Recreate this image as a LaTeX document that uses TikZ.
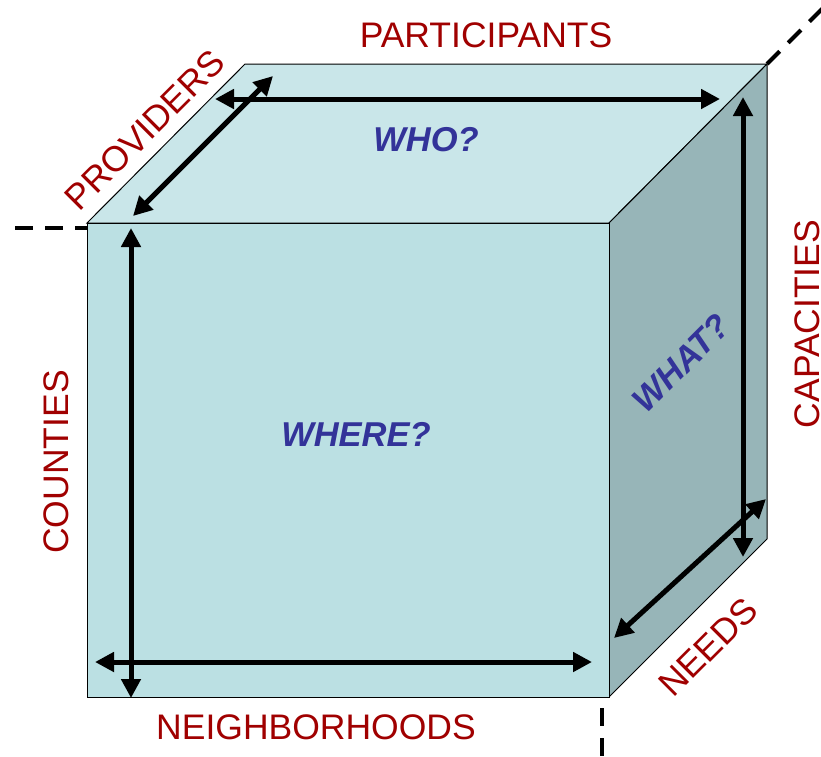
\documentclass[tikz,border=0pt]{standalone}
\usepackage{fontspec}
\setmainfont{Liberation Sans}
\usetikzlibrary{arrows.meta}
\definecolor{frontc}{HTML}{BBE0E3}
\definecolor{topc}{HTML}{C9E6E9}
\definecolor{sidec}{HTML}{97B5B8}
\definecolor{redt}{HTML}{A00000}
\definecolor{bluet}{HTML}{333399}
\begin{document}
\begin{tikzpicture}[x=1pt,y=-1pt,
  face/.style={draw=black,line width=1pt,line join=miter},
  dimarrow/.style={line width=5pt,{Triangle[length=19pt,width=19pt]}-{Triangle[length=19pt,width=19pt]}},
  axislbl/.style={text=redt,font=\fontsize{35.5}{40}\selectfont,inner sep=0pt},
  qlbl/.style={text=bluet,font=\fontsize{34.5}{40}\selectfont\bfseries\itshape,inner sep=0pt},
  guide/.style={line width=4pt,dash pattern=on 18pt off 12pt}]
\useasboundingbox (0,0) rectangle (821,756);
% cube corners
\coordinate (A) at (87,223);
\coordinate (B) at (609,223);
\coordinate (C) at (609,697);
\coordinate (D) at (87,697);
\coordinate (E) at (245,64);
\coordinate (F) at (767,64);
\coordinate (G) at (767,539);
% guide lines
\coordinate (gl1) at (15,228);
\coordinate (gl2) at (87,228);
\coordinate (gt1) at (767,64);
\coordinate (gt2) at (824,7);
\coordinate (gb1) at (602,708);
\coordinate (gb2) at (602,760);
\draw[guide] (gl1) -- (gl2);
\draw[guide] (gt1) -- (gt2);
\draw[guide] (gb1) -- (gb2);
% faces
\filldraw[face,fill=topc] (A) -- (E) -- (F) -- (B) -- cycle;
\filldraw[face,fill=sidec] (B) -- (F) -- (G) -- (C) -- cycle;
\filldraw[face,fill=frontc] (A) -- (B) -- (C) -- (D) -- cycle;
% arrow end points
\coordinate (th1) at (215,99);
\coordinate (th2) at (720,99);
\coordinate (td1) at (133,216);
\coordinate (td2) at (273,76);
\coordinate (fv1) at (131,228);
\coordinate (fv2) at (131,698);
\coordinate (fh1) at (95,662);
\coordinate (fh2) at (592,662);
\coordinate (rv1) at (743,97);
\coordinate (rv2) at (743,557);
\coordinate (rd1) at (614,638);
\coordinate (rd2) at (766,499);
\draw[dimarrow] (th1) -- (th2);
\draw[dimarrow] (td1) -- (td2);
\draw[dimarrow] (fv1) -- (fv2);
\draw[dimarrow] (fh1) -- (fh2);
\draw[dimarrow] (rv1) -- (rv2);
\draw[dimarrow] (rd1) -- (rd2);
% labels
\node[axislbl] (participants) at (486,35) {PARTICIPANTS};
\node[axislbl,rotate=45] (providers) at (145,130) {PROVIDERS};
\node[axislbl,rotate=90] (counties) at (56,462) {COUNTIES};
\node[axislbl] (neighborhoods) at (316,727) {NEIGHBORHOODS};
\node[axislbl,rotate=90] (capacities) at (807,324) {CAPACITIES};
\node[axislbl,rotate=45] (needs) at (708,647) {NEEDS};
\node[qlbl] (who) at (426,140) {WHO?};
\node[qlbl] (where) at (356,434) {WHERE?};
\node[qlbl,rotate=45] (what) at (681,363) {WHAT?};
\end{tikzpicture}
\end{document}
